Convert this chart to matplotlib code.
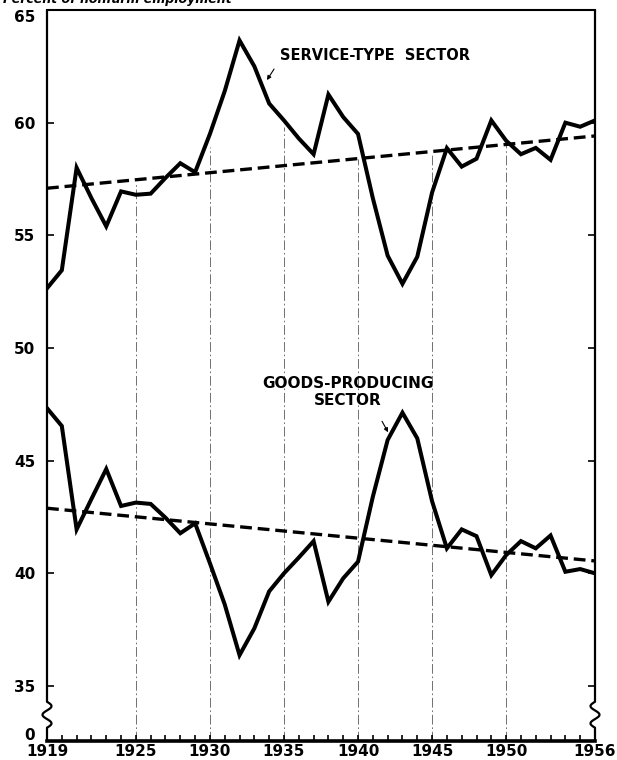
import matplotlib
matplotlib.use('Agg')
import matplotlib.pyplot as plt
import matplotlib.transforms as mtransforms
import numpy as np

years = list(range(1919, 1957))
service = [52.65, 53.45, 58.0, 56.65, 55.4, 56.95, 56.8, 56.85, 57.55, 58.2,
           57.8, 59.5, 61.4, 63.65, 62.5, 60.85, 60.1, 59.3, 58.6, 61.25,
           60.25, 59.5, 56.65, 54.1, 52.85, 54.05, 56.9, 58.87, 58.05, 58.4,
           60.1, 59.2, 58.6, 58.88, 58.35, 60.0, 59.82, 60.1]
goods = [47.33, 46.54, 41.95, 43.3, 44.63, 42.99, 43.14, 43.08, 42.47, 41.78,
         42.22, 40.45, 38.62, 36.37, 37.56, 39.2, 40.0, 40.7, 41.43, 38.74,
         39.78, 40.52, 43.4, 45.92, 47.13, 45.99, 43.2, 41.11, 41.95, 41.65,
         39.92, 40.81, 41.43, 41.11, 41.68, 40.07, 40.19, 40.0]
trend_years = [1919, 1956]
service_trend = [57.09, 59.41]
goods_trend = [42.89, 40.55]
grid_years = [1925, 1930, 1935, 1940, 1945, 1950]
grid_tops = [57.3, 58.9, 59.8, 58.4, 58.6, 59.0]
xtick_years = [1919, 1925, 1930, 1935, 1940, 1945, 1950, 1956]
ytick_values = [35, 40, 45, 50, 55, 60, 65]
ytick_labels = ['35', '40', '45', '50', '55', '60', '65']
zero_label = '0'

plt.rcParams['lines.scale_dashes'] = False
plt.rcParams['font.family'] = ['DejaVu Sans']

fig = plt.figure(figsize=(6.17, 7.6), dpi=100)
ax = fig.add_axes([47 / 617, 19 / 760, 548 / 617, 731 / 760])
y_bottom = 32.56
y_top = 65
ax.set_xlim(years[0], years[-1])
ax.set_ylim(y_bottom, y_top)

# vertical dash-dot guide lines
for gx, gt in zip(grid_years, grid_tops):
    ax.plot([gx, gx], [y_bottom, gt], color='0.35', lw=0.6,
            dashes=(7, 2, 1.2, 2), zorder=1)

# trend lines
ax.plot(trend_years, service_trend, color='black', lw=2.4, dashes=(8.5, 4.2),
        zorder=2, dash_capstyle='butt')
ax.plot(trend_years, goods_trend, color='black', lw=2.4, dashes=(8.5, 4.2),
        zorder=2, dash_capstyle='butt')

# data lines
ax.plot(years, service, color='black', lw=2.9, solid_joinstyle='miter', zorder=3)
ax.plot(years, goods, color='black', lw=2.9, solid_joinstyle='miter', zorder=3)

# spines
ax.spines['left'].set_visible(False)
ax.spines['right'].set_visible(False)
ax.spines['top'].set_linewidth(1.5)
ax.spines['bottom'].set_linewidth(2.6)

year_per_px = (years[-1] - years[0]) / 548.0


def vspine(x0, sgn):
    brk_top, brk_bot = 34.3, 33.15
    t = np.linspace(0, 1, 40)
    zz_y = brk_top + (brk_bot - brk_top) * t
    zz_x = x0 + sgn * 4.5 * year_per_px * np.sin(2 * np.pi * 1.5 * t)
    xs = np.r_[x0, zz_x, x0]
    ys = np.r_[y_top, zz_y, y_bottom]
    ax.plot(xs, ys, color='black', lw=1.6, clip_on=False, zorder=5,
            solid_capstyle='butt')


vspine(years[0], 1)
vspine(years[-1], -1)

# ticks
ax.set_xticks(xtick_years)
ax.set_xticklabels([str(y) for y in xtick_years], fontsize=11, fontweight='bold')
ax.set_xticks(years, minor=True)
ax.tick_params(axis='x', which='both', direction='in', length=4.5, width=1.2,
               top=False, pad=2)

zero_pos = 32.85
ax.set_yticks([zero_pos] + ytick_values)
ax.set_yticklabels([zero_label] + ytick_labels, fontsize=11, fontweight='bold')
ax.tick_params(axis='y', direction='in', length=5, width=1.2, left=True,
               right=True, pad=8.5)
ticks = ax.yaxis.get_major_ticks()
ticks[0].tick1line.set_visible(False)
ticks[0].tick2line.set_visible(False)
# top label sits a little below its tick, as in the original
top_lbl = ticks[-1].label1
top_lbl.set_transform(top_lbl.get_transform() +
                      mtransforms.ScaledTranslation(0, -6 / 100, fig.dpi_scale_trans))

# annotations
ax.text(1934.73, 62.96, 'SERVICE-TYPE  SECTOR', fontsize=10.5,
        fontweight='bold', va='center', ha='left')
ax.annotate('', xy=(1933.85, 61.89), xytext=(1934.33, 62.38),
            arrowprops=dict(arrowstyle='-|>', lw=0.8, color='black',
                            mutation_scale=6, shrinkA=0, shrinkB=0))
ax.text(1939.32, 48.06, 'GOODS-PRODUCING\nSECTOR', ha='center', va='center',
        fontsize=11, fontweight='bold')
ax.annotate('', xy=(1942.03, 46.26), xytext=(1941.62, 46.75),
            arrowprops=dict(arrowstyle='-|>', lw=0.8, color='black',
                            mutation_scale=6, shrinkA=0, shrinkB=0))

fig.text(3 / 617, 1 - 3 / 760, 'Percent of nonfarm employment', fontsize=9,
         fontstyle='italic', fontweight='bold', va='baseline', ha='left')

fig.savefig('out.png', dpi=100)
